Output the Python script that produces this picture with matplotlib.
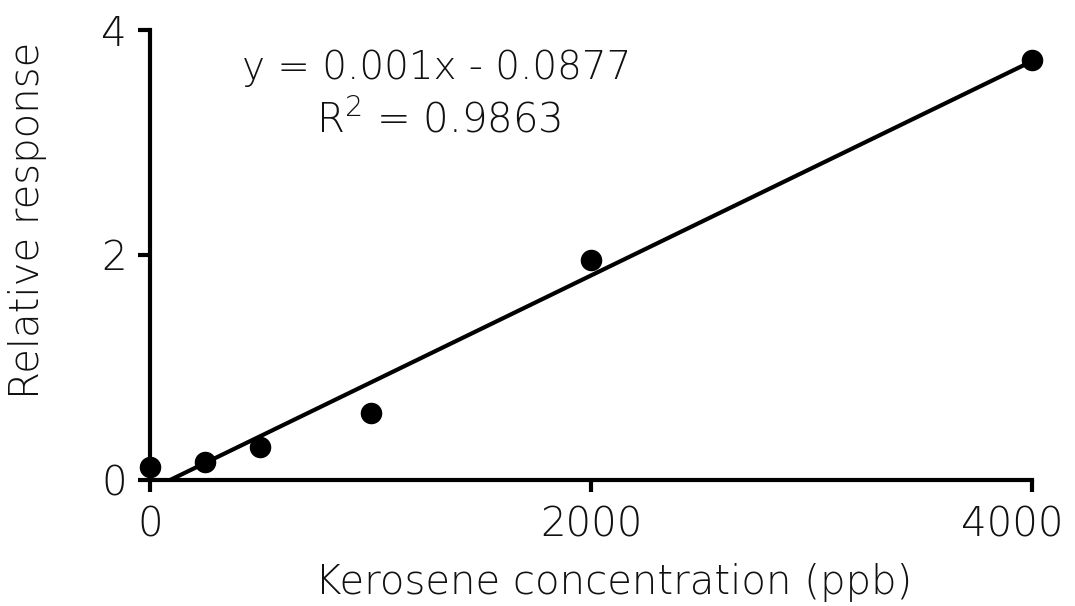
import numpy as np
import matplotlib
matplotlib.use("Agg")
import matplotlib.pyplot as plt
from matplotlib.transforms import ScaledTranslation

# Data
conc_ppb = [0, 250, 500, 1000, 2000, 4000]
rel_response = [0.12, 0.16, 0.29, 0.60, 1.96, 3.73]
x_ticks = [0, 2000, 4000]
y_ticks = [0, 2, 4]
eq_text = "y = 0.001x - 0.0877"
r2_text = "R$^2$ = 0.9863"

TEXT_COLOR = '#111111'

plt.rcParams['font.family'] = ['DejaVu Sans']
plt.rcParams['font.weight'] = 'light'
plt.rcParams['axes.labelweight'] = 'light'
plt.rcParams['mathtext.fontset'] = 'custom'
plt.rcParams['mathtext.rm'] = 'DejaVu Sans:light'

fig = plt.figure(figsize=(10.75, 6.06), dpi=100)
ax = fig.add_axes([150/1075, (606-480)/606, (1032-150)/1075, (480-30)/606])

# linear fit
slope, intercept = np.polyfit(conc_ppb, rel_response, 1)
x0 = -intercept / slope
xl = np.array([x0, max(conc_ppb)])
ax.plot(xl, slope * xl + intercept, color='black', lw=3.0, solid_capstyle='butt', zorder=2)

ax.plot(conc_ppb, rel_response, 'o', color='black', ms=14.5, clip_on=False, zorder=3)

ax.set_xlim(0, 4000)
ax.set_ylim(0, 4)
ax.set_xticks(x_ticks)
ax.set_yticks(y_ticks)
ax.set_xticklabels([str(t) for t in x_ticks])
ax.set_yticklabels([str(t) for t in y_ticks])

for s in ['top', 'right']:
    ax.spines[s].set_visible(False)
for s in ['left', 'bottom']:
    ax.spines[s].set_linewidth(3.0)
    ax.spines[s].set_capstyle('projecting')

ax.tick_params(axis='both', direction='out', length=8.6, width=3.0, labelsize=29,
               colors='black', labelcolor=TEXT_COLOR)
ax.tick_params(axis='x', pad=10)
ax.tick_params(axis='y', pad=8)

# shift last x tick label left so it fits the canvas, as in the reference
last = ax.get_xticklabels()[-1]
last.set_transform(last.get_transform() + ScaledTranslation(-20/100, 0, fig.dpi_scale_trans))

ax.set_xlabel("Kerosene concentration (ppb)", fontsize=29, color=TEXT_COLOR, fontweight='light')
ax.set_ylabel("Relative response", fontsize=29, color=TEXT_COLOR, fontweight='light')
ax.xaxis.set_label_coords((614 - 150) / 882, -(583 - 480) / 450, transform=ax.transAxes)
ax.xaxis.label.set_verticalalignment('center')
ax.yaxis.set_label_coords(-(150 - 28) / 882, (480 - 220) / 450, transform=ax.transAxes)
ax.yaxis.label.set_verticalalignment('center')

ax.text((437 - 150) / 882, (480 - 68) / 450, eq_text, transform=ax.transAxes,
        ha='center', va='center', fontsize=28, color=TEXT_COLOR)
ax.text((439 - 150) / 882, (480 - 120) / 450, r2_text, transform=ax.transAxes,
        ha='center', va='center', fontsize=29, color=TEXT_COLOR)

fig.savefig("out.png", dpi=100)
